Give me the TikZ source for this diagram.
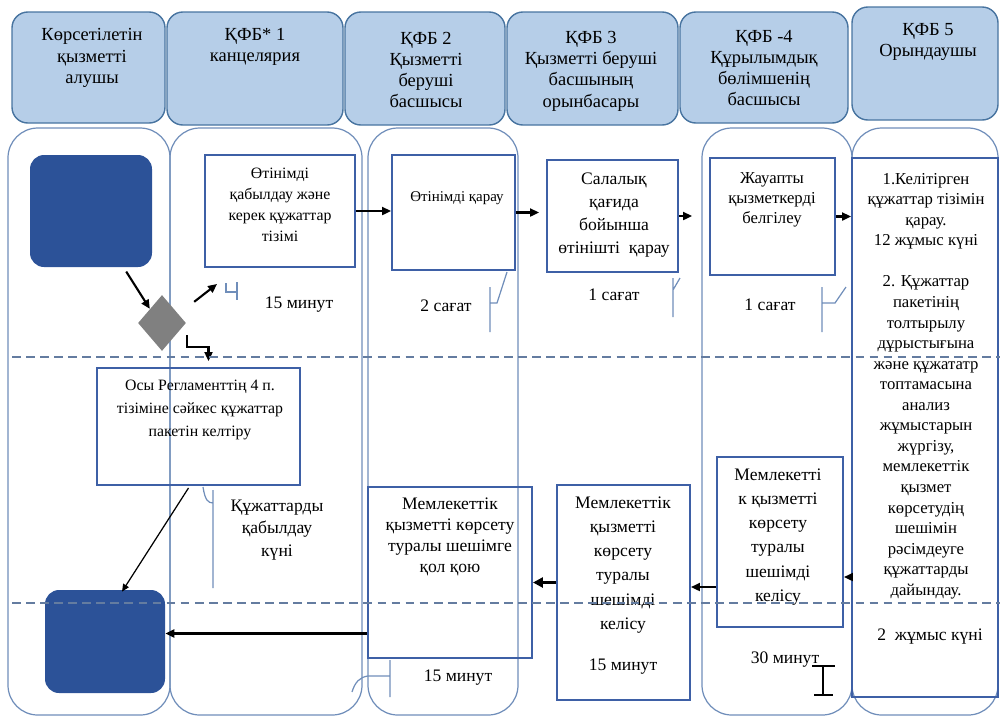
\documentclass[tikz,border=0pt]{standalone}
\usepackage{fontspec}
\setmainfont{Liberation Serif}
\usetikzlibrary{arrows.meta,positioning,calc,shapes.geometric,fit}

\definecolor{hdrfill}{RGB}{182,206,232}
\definecolor{hdrline}{RGB}{72,116,160}
\definecolor{laneline}{RGB}{112,142,186}
\definecolor{boxline}{RGB}{62,96,166}
\definecolor{termfill}{RGB}{44,82,152}
\definecolor{gatefill}{RGB}{128,128,128}
\definecolor{dashline}{RGB}{100,124,160}

\begin{document}
\begin{tikzpicture}[x=0.2mm,y=-0.2mm,
  hdr/.style={draw=hdrline,fill=hdrfill,line width=0.8pt,rounded corners=9pt,inner sep=0pt},
  lane/.style={draw=laneline,line width=0.7pt,rounded corners=17pt},
  pbox/.style={draw=boxline,line width=1.1pt,inner sep=0pt},
  term/.style={fill=termfill,rounded corners=8pt,inner sep=0pt},
  gate/.style={diamond,fill=gatefill,inner sep=0pt,minimum width=9.6mm,minimum height=11.2mm},
  hdtxt/.style={align=center,inner sep=0pt,font={\fontsize{10.5}{12.1}\selectfont}},
  txt/.style={align=center,inner sep=0pt,font={\fontsize{10}{11.7}\selectfont}},
  brk/.style={draw=laneline,line width=0.7pt},
  arr/.style={-{Triangle[length=1.8mm,width=1.6mm]},line width=1.2pt},
  thinarr/.style={-{Triangle[length=1.5mm,width=1.3mm]},line width=0.7pt},
  heavyarr/.style={-{Triangle[length=2mm,width=2mm]},line width=2.2pt},
  lanesep/.style={draw=dashline,line width=0.9pt,dash pattern=on 5pt off 3pt}]

  \useasboundingbox (0,0) rectangle (1000,719);

  % swim lanes
  \foreach \xa/\xb in {8/170,170/362,368/518,702/852,852/998}
    \draw[lane] (\xa,128) rectangle (\xb,715);

  % lane headers
  \node[hdr,fit={(12,12) (165,123)}] (h1) {};
  \node[hdr,fit={(167,12) (343,125)}] (h2) {};
  \node[hdr,fit={(345,12) (505,125)}] (h3) {};
  \node[hdr,fit={(507,12) (678,125)}] (h4) {};
  \node[hdr,fit={(680,12) (848,123)}] (h5) {};
  \node[hdr,fit={(852,7) (998,120)}] (h6) {};
  \node[hdtxt] (h1t) at (92,58) {Көрсетілетін\\қызметті\\алушы};
  \node[hdtxt] (h2t) at (255,47) {ҚФБ* 1\\канцелярия};
  \node[hdtxt] (h3t) at (426,70) {ҚФБ 2\\Қызметті\\беруші\\басшысы};
  \node[hdtxt] (h4t) at (591,71) {ҚФБ 3\\Қызметті беруші\\басшының\\орынбасары};
  \node[hdtxt] (h5t) at (764,68) {ҚФБ -4\\Құрылымдық\\бөлімшенің\\басшысы};
  \node[hdtxt] (h6t) at (928,42) {ҚФБ 5\\Орындаушы};

  % start / finish and decision
  \node[term,fit={(30,155) (152,267)}] (start) {};
  \node[term,fit={(45,590) (165,693)}] (finish) {};
  \node[gate] (gate) at (162,323) {};

  % process boxes
  \node[pbox,fit={(205,155) (355,267)}] (recv) {};
  \node[pbox,fit={(392,155) (515,270)}] (review) {};
  \node[pbox,fit={(547,160) (678,272)}] (branch) {};
  \node[pbox,fit={(710,158) (835,275)}] (assign) {};
  \node[pbox,fit={(852,158) (998,697)}] (exec) {};
  \node[pbox,fit={(97,368) (300,485)}] (docs) {};
  \node[pbox,fit={(368,487) (532,658)}] (sign) {};
  \node[pbox,fit={(557,485) (690,700)}] (agree2) {};
  \node[pbox,fit={(717,457) (843,627)}] (agree1) {};

  \node[txt,font={\fontsize{9}{12}\selectfont}] (recvt) at (280,205)
    {Өтінімді\\қабылдау және\\керек құжаттар\\тізімі};
  \node[txt,font={\fontsize{8.5}{10}\selectfont}] (reviewt) at (457,198) {Өтінімді қарау};
  \node[txt,font={\fontsize{10}{13}\selectfont}] (brancht) at (614,215)
    {Салалық\\қағида\\бойынша\\өтінішті~ қарау};
  \node[txt,font={\fontsize{9.5}{11.4}\selectfont}] (assignt) at (772,200)
    {Жауапты\\қызметкерді\\белгілеу};
  \node[txt,font={\fontsize{9.5}{11.7}\selectfont}] (exect) at (926,386)
    {1.Келітірген\\құжаттар тізімін\\қарау.\\12 жұмыс күні\\~\\2. Құжаттар\\пакетінің\\толтырылу\\дұрыстығына\\және құжататр\\топтамасына\\анализ\\жұмыстарын\\жүргізу,\\мемлекеттік\\қызмет\\көрсетудің\\шешімін\\рәсімдеуге\\құжаттарды\\дайындау.};
  \node[txt,font={\fontsize{9}{13}\selectfont}] (docst) at (200,410)
    {Осы Регламенттің 4 п.\\тізіміне сәйкес құжаттар\\пакетін келтіру};
  \node[txt,font={\fontsize{10}{12}\selectfont}] (signt) at (450,537)
    {Мемлекеттік\\қызметті көрсету\\туралы шешімге\\қол қою};
  \node[txt,font={\fontsize{10}{13.7}\selectfont}] (agree2t) at (623,565)
    {Мемлекеттік\\қызметті\\көрсету\\туралы\\шешімді\\келісу};
  \node[txt,font={\fontsize{10}{13.7}\selectfont}] (agree1t) at (778,537)
    {Мемлекетті\\к қызметті\\көрсету\\туралы\\шешімді\\келісу};

  % durations
  \node[txt] (t1) at (299,305) {15 минут};
  \node[txt] (t2) at (446,306) {2 сағат};
  \node[txt] (t3) at (614,295) {1 сағат};
  \node[txt] (t4) at (770,305) {1 сағат};
  \node[txt,font={\fontsize{10}{13}\selectfont}] (t5) at (277,530) {Құжаттарды\\қабылдау\\күні};
  \node[txt] (t6) at (458,678) {15 минут};
  \node[txt] (t7) at (623,667) {15 минут};
  \node[txt] (t8) at (785,660) {30 минут};
  \node[txt] (t9) at (930,637) {2~ жұмыс күні};

  % duration brackets
  \draw[brk] (226,283) -- (226,292) -- (237,292) (237,282) -- (237,300);
  \draw[brk] (490,287) -- (490,332) (490,303) -- (497,303) -- (507,272);
  \draw[brk] (673,278) -- (673,317) (673,290) -- (680,278);
  \draw[brk] (822,287) -- (822,332) (822,303) -- (835,303) -- (846,287);
  \draw[brk] (213,490) -- (213,588) (203,487) .. controls (205,500) and (208,503) .. (213,503);
  \draw[brk] (390,660) -- (390,697) (390,676) -- (368,676) .. controls (360,677) and (355,682) .. (352,692);
  \draw[line width=0.8pt] (812,666) -- (835,666) (823,666) -- (823,695) (814,695) -- (833,695);

  % flow
  \draw[arr,shorten <=1mm] (start.300) -- (gate.north west);
  \draw[arr] ([shift={(20,-7)}]gate.north east) -- ([shift={(13,16)}]recv.south west);
  \draw[arr] ([shift={(1,12)}]gate.east) -- ++(0,12) -| ([shift={(10,-6)}]docs.north);
  \draw[arr] (recv.east) -- (recv.east -| review.west);
  \draw[arr,shorten >=1.4mm] (review.east) -- (review.east -| branch.west);
  \draw[arr,shorten >=3.4mm] (branch.east) -- (branch.east -| assign.west);
  \draw[arr] (assign.east) -- (assign.east -| exec.west);
  \coordinate (toagree) at ($(agree1.east)+(0,35)$);
  \draw[arr] (exec.west |- toagree) -- (toagree);
  \coordinate (tofwd) at ($(agree1.west)+(0,45)$);
  \draw[arr] (tofwd) -- (tofwd -| agree2.east);
  \coordinate (tosign) at ($(agree2.west)+(0,-10)$);
  \draw[heavyarr] (tosign) -- (tosign -| sign.east);
  \coordinate (ret) at ($(finish.east)+(0,-8)$);
  \draw[arr] (sign.west |- ret) -- (ret);
  \draw[thinarr] ($(docs.south)+(-10,2)$) -- ($(finish.north)+(17,2)$);

  % stage separators
  \foreach \y in {357,603}
    \draw[lanesep] (12,\y) -- (1000,\y);
\end{tikzpicture}
\end{document}
